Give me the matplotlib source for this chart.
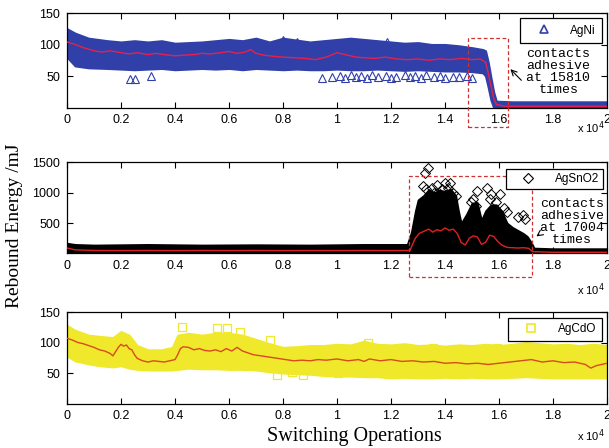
import matplotlib
matplotlib.use("Agg")
import matplotlib.pyplot as plt
from matplotlib.lines import Line2D
from matplotlib.patches import Rectangle

# ---------------- data ----------------
# AgNi : band envelope
agni_x = [0, 300, 800, 1500, 2000, 2500, 3000, 3500, 4000, 4500, 5000, 5500, 6000, 6500,
          7000, 7500, 8000, 8500, 9000, 9500, 10000, 10500, 11000, 11500, 12000, 12500,
          13000, 13500, 14000, 14500, 15000, 15400, 15500, 15600, 15700, 15800, 15900,
          16500, 17000, 18000, 19000, 20000]
agni_hi = [125, 118, 110, 106, 104, 106, 104, 106, 102, 103, 104, 106, 108, 106,
           110, 104, 110, 107, 104, 106, 108, 110, 108, 106, 104, 102,
           103, 100, 100, 98, 95, 92, 90, 72, 48, 25, 10,
           9, 9, 9, 9, 9]
agni_lo = [80, 66, 63, 62, 61, 60, 61, 62, 60, 61, 62, 61, 62, 60,
           62, 61, 60, 61, 60, 60, 61, 60, 60, 61, 60, 59,
           60, 59, 58, 58, 57, 55, 50, 32, 12, 0, 0,
           0, 0, 0, 0, 0]
agni_mean_x = [0, 300, 600, 1000, 1300, 1600, 2000, 2300, 2600, 3000, 3300, 3600, 4000,
               4300, 4700, 5000, 5300, 5700, 6000, 6300, 6600, 6800, 7000, 7300, 7700,
               8000, 8400, 8800, 9200, 9600, 10000, 10300, 10700, 11000, 11400, 11800,
               12200, 12600, 13000, 13400, 13800, 14200, 14600, 15000, 15300, 15500,
               15600, 15700, 15800, 15900, 16200, 17000, 18000, 19000, 20000]
agni_mean_y = [104, 100, 95, 90, 88, 90, 87, 85, 87, 84, 86, 84, 82,
               83, 84, 86, 85, 87, 89, 86, 88, 92, 86, 83, 81,
               80, 79, 78, 76, 80, 87, 84, 80, 79, 78, 80,
               77, 76, 77, 75, 77, 76, 78, 76, 77, 72,
               55, 35, 15, 5, 2, 2, 2, 2, 2]
agni_out_x = [2350, 2500, 3100, 8000, 8500, 11850,
              9450, 9800, 10100, 10300, 10500, 10700, 10900, 11100, 11300, 11500,
              11800, 12000, 12200, 12500, 12700, 12900, 13100, 13300, 13600, 13800,
              14000, 14300, 14500, 14800, 15000]
agni_out_y = [46, 46, 50, 107, 104, 104,
              47, 48, 50, 47, 52, 48, 50, 47, 51, 48,
              50, 47, 49, 52, 48, 50, 47, 51, 48, 50,
              47, 49, 48, 50, 47]

# AgSnO2
agsn_x = [0, 300, 1000, 3000, 5000, 7000, 9000, 11000, 12600, 12750, 12900, 13000,
          13200, 13400, 13600, 13800, 14000, 14200, 14400, 14500, 14600, 14800, 15000,
          15200, 15350, 15500, 15700, 15900, 16100, 16300, 16500, 16700, 16900, 17050,
          17200, 17300, 18000, 19000, 20000]
agsn_hi = [170, 150, 140, 150, 140, 145, 140, 150, 150, 350, 700, 880,
           950, 1050, 1000, 1040, 1020, 1060, 950, 700, 500, 650, 830,
           830, 550, 700, 800, 800, 700, 500, 430, 380, 330, 280,
           180, 90, 80, 80, 80]
agsn_lo = [-20, -20, -20, -20, -20, -20, -20, -20, -20, -20, -20, -20,
           -20, -20, -20, -20, -20, -20, -20, -20, -20, -20, -20,
           -20, -20, -20, -20, -20, -20, -20, -20, -20, -20, -20,
           -20, -20, -20, -20, -20]
agsn_mean_x = [0, 300, 1000, 2000, 3000, 4000, 5000, 6000, 7000, 8000, 9000, 10000,
               11000, 12000, 12700, 12800, 12900, 13050, 13200, 13400, 13550, 13700,
               13850, 14000, 14150, 14300, 14450, 14600, 14750, 14900, 15050, 15200,
               15350, 15500, 15650, 15800, 15950, 16100, 16300, 16500, 16700, 16900,
               17100, 17250, 18000, 19000, 20000]
agsn_mean_y = [90, 60, 50, 48, 50, 47, 50, 48, 50, 47, 49, 48,
               50, 48, 50, 150, 250, 330, 360, 400, 350, 390,
               370, 420, 380, 400, 330, 180, 140, 250, 290, 270,
               150, 180, 300, 280, 200, 140, 100, 95, 90, 95,
               85, 30, 20, 20, 20]
agsn_out_x = [13260, 13370, 13200, 13300, 13500, 13600, 13700, 13900, 14000, 14100,
              14300, 14400, 14200, 13800, 14950, 15050, 15200, 15150, 15550, 15700,
              15650, 15900, 16040, 16300, 16200, 16700, 16890, 16950]
agsn_out_y = [1320, 1400, 1100, 1050, 1080, 1000, 1120, 1050, 1160, 1080,
              1000, 950, 1150, 980, 850, 900, 1030, 780, 1080, 980,
              900, 850, 980, 680, 750, 600, 630, 560]

# AgCdO
agcd_x = [0, 300, 800, 1200, 1700, 2000, 2300, 2600, 3000, 3500, 3900, 4100, 4500,
          5000, 5500, 6000, 6500, 7000, 7500, 8000, 8500, 9000, 9500, 10000, 10500,
          11000, 11500, 12000, 12500, 13000, 13500, 14000, 14500, 15000, 15500, 16000,
          16500, 17000, 17500, 18000, 18500, 19000, 19500, 20000]
agcd_hi = [128, 120, 112, 110, 108, 118, 112, 95, 88, 88, 92, 112, 115,
           112, 115, 115, 112, 105, 98, 92, 93, 95, 95, 97, 96,
           102, 97, 96, 98, 95, 96, 94, 96, 95, 97, 95,
           97, 100, 98, 96, 97, 95, 97, 95]
agcd_lo = [78, 70, 65, 62, 60, 62, 58, 56, 55, 55, 55, 56, 58,
           57, 57, 56, 56, 55, 52, 50, 49, 48, 46, 45, 45,
           44, 44, 42, 43, 42, 42, 43, 42, 43, 42, 42,
           43, 44, 43, 42, 42, 42, 42, 42]
agcd_mean_x = [0, 200, 400, 600, 800, 1000, 1200, 1400, 1600, 1700, 1800, 1900, 2000,
               2100, 2200, 2300, 2400, 2500, 2600, 2800, 3000, 3200, 3400, 3600, 3800,
               4000, 4100, 4200, 4300, 4500, 4700, 4900, 5100, 5300, 5500, 5700, 5900,
               6100, 6300, 6500, 6700, 6900, 7200, 7500, 7800, 8100, 8400, 8700, 9000,
               9300, 9600, 10000, 10400, 10800, 11000, 11200, 11600, 12000, 12400,
               12800, 13200, 13600, 14000, 14400, 14800, 15200, 15600, 16000, 16400,
               16800, 17200, 17600, 18000, 18400, 18800, 19200, 19400, 19600, 20000]
agcd_mean_y = [107, 104, 100, 98, 95, 92, 88, 86, 82, 78, 85, 92, 97,
               94, 96, 90, 88, 80, 74, 70, 68, 70, 69, 68, 70,
               72, 80, 90, 93, 92, 88, 90, 87, 86, 88, 85, 90,
               86, 92, 86, 83, 80, 78, 76, 74, 72, 70, 71, 70,
               72, 71, 73, 70, 72, 69, 73, 70, 72, 69,
               70, 68, 69, 66, 67, 65, 66, 64, 66, 68,
               70, 72, 68, 70, 67, 68, 64, 58, 62, 66]
agcd_out_x = [4260, 5560, 5930, 6400, 7520, 7780, 8330, 8740, 10040, 11150, 13560, 15930]
agcd_out_y = [125, 123, 123, 117, 104, 47, 52, 47, 50, 99, 91, 91]

xticks_vals = [0, 2000, 4000, 6000, 8000, 10000, 12000, 14000, 16000, 18000, 20000]
xtick_labels = ['0', '0.2', '0.4', '0.6', '0.8', '1', '1.2', '1.4', '1.6', '1.8', '2']

# ---------------- figure ----------------
fig = plt.figure(figsize=(6.09, 4.48), dpi=100)
W, H = 609, 448

def add_axes(top_px, bottom_px):
    l, r = 67, 607
    return fig.add_axes([l / W, 1 - bottom_px / H, (r - l) / W, (bottom_px - top_px) / H])

ax1 = add_axes(13, 107.5)
ax2 = add_axes(162, 253.5)
ax3 = add_axes(312, 403.5)

tickfont = dict(family='Liberation Sans', size=9)

for ax in (ax1, ax2, ax3):
    ax.set_xlim(0, 20000)
    ax.set_xticks(xticks_vals)
    ax.set_xticklabels(xtick_labels, **tickfont)
    ax.tick_params(direction='in', top=True, right=True, length=4, width=0.8, pad=5)
    for s in ax.spines.values():
        s.set_linewidth(0.9)
        s.set_color('black')

blue = '#3140a8'
yellow = '#f0e82a'

# ---- AgNi
ax1.set_ylim(0, 150)
ax1.set_yticks([50, 100, 150])
ax1.set_yticklabels(['50', '100', '150'], **tickfont)
ax1.fill_between(agni_x, agni_lo, agni_hi, facecolor=blue, edgecolor=blue, linewidth=1.5, zorder=2)
ax1.plot(agni_out_x, agni_out_y, linestyle='none', marker='^', markersize=6,
         markerfacecolor='none', markeredgecolor=blue, markeredgewidth=0.8, zorder=2)
ax1.plot(agni_mean_x, agni_mean_y, color='#e8204a', linewidth=1.0, zorder=3)
ax1.add_patch(Rectangle((14850, -31), 16333 - 14850, 111 + 31, fill=False,
                        edgecolor='#d03030', linestyle=(0, (3, 2)), linewidth=0.9,
                        clip_on=False, zorder=4))
ax1.text(18200, 57, 'contacts\nadhesive\nat 15810\ntimes', family='Liberation Mono',
         fontsize=9.5, ha='center', va='center', linespacing=1.0, zorder=5)
ax1.annotate('', xy=(16350, 64), xytext=(16900, 40),
             arrowprops=dict(arrowstyle='->', color='black', lw=0.8), zorder=5)
h1 = Line2D([], [], linestyle='none', marker='^', markersize=6, markerfacecolor='none',
            markeredgecolor=blue, markeredgewidth=1.2)
leg = ax1.legend([h1], ['AgNi'], loc='upper right', bbox_to_anchor=(0.991, 0.947),
                 borderaxespad=0, fancybox=False, edgecolor='black', framealpha=1,
                 prop=dict(family='Liberation Sans', size=8.5), borderpad=0.55,
                 handlelength=3.0, handletextpad=0.7)
leg.get_frame().set_linewidth(0.9)

# ---- AgSnO2
ax2.set_ylim(0, 1500)
ax2.set_yticks([500, 1000, 1500])
ax2.set_yticklabels(['500', '1000', '1500'], **tickfont)
ax2.fill_between(agsn_x, agsn_lo, agsn_hi, facecolor='black', edgecolor='black', linewidth=1.2, zorder=2)
ax2.plot(agsn_out_x, agsn_out_y, linestyle='none', marker='D', markersize=5,
         markerfacecolor='none', markeredgecolor='black', markeredgewidth=0.7, zorder=2)
ax2.plot(agsn_mean_x, agsn_mean_y, color='#e02020', linewidth=1.0, zorder=3)
ax2.add_patch(Rectangle((12667, -385), 17222 - 12667, 1274 + 385, fill=False,
                        edgecolor='#d03030', linestyle=(0, (3, 2)), linewidth=0.9,
                        clip_on=False, zorder=4))
ax2.text(18700, 520, 'contacts\nadhesive\nat 17004\ntimes', family='Liberation Mono',
         fontsize=9.5, ha='center', va='center', linespacing=1.0, zorder=5)
ax2.annotate('', xy=(17300, 254), xytext=(17560, 336),
             arrowprops=dict(arrowstyle='->', color='black', lw=0.8), zorder=5)
h2 = Line2D([], [], linestyle='none', marker='D', markersize=5, markerfacecolor='none',
            markeredgecolor='black', markeredgewidth=0.8)
leg = ax2.legend([h2], ['AgSnO2'], loc='upper right', bbox_to_anchor=(0.993, 0.923),
                 borderaxespad=0, fancybox=False, edgecolor='black', framealpha=1,
                 prop=dict(family='Liberation Sans', size=8.5), borderpad=0.35,
                 handlelength=3.0, handletextpad=0.8)
leg.get_frame().set_linewidth(0.9)

# ---- AgCdO
ax3.set_ylim(0, 150)
ax3.set_yticks([50, 100, 150])
ax3.set_yticklabels(['50', '100', '150'], **tickfont)
ax3.fill_between(agcd_x, agcd_lo, agcd_hi, facecolor=yellow, edgecolor=yellow, linewidth=1.5, zorder=2)
ax3.plot(agcd_out_x, agcd_out_y, linestyle='none', marker='s', markersize=6,
         markerfacecolor='none', markeredgecolor=yellow, markeredgewidth=0.9, zorder=2)
ax3.plot(agcd_mean_x, agcd_mean_y, color='#d84a20', linewidth=1.0, zorder=3)
h3 = Line2D([], [], linestyle='none', marker='s', markersize=6, markerfacecolor='none',
            markeredgecolor=yellow, markeredgewidth=1.2)
leg = ax3.legend([h3], ['AgCdO'], loc='upper right', bbox_to_anchor=(0.991, 0.934),
                 borderaxespad=0, fancybox=False, edgecolor='black', framealpha=1,
                 prop=dict(family='Liberation Sans', size=8.5), borderpad=0.45,
                 handlelength=3.0, handletextpad=0.8)
leg.get_frame().set_linewidth(0.9)

# ---- figure texts
for ypx in (128, 290, 436):
    fig.text(605 / W, 1 - ypx / H, 'x 10$^{4}$', ha='right', va='center',
             family='Liberation Sans', fontsize=8)
fig.text(15 / W, 1 - 226 / H, 'Rebound Energy /mJ', rotation=90, ha='center', va='center',
         family='Liberation Serif', fontsize=14)
fig.text(354 / W, 1 - 436 / H, 'Switching Operations', ha='center', va='center',
         family='Liberation Serif', fontsize=14.5)

fig.savefig('out.png', dpi=100)
